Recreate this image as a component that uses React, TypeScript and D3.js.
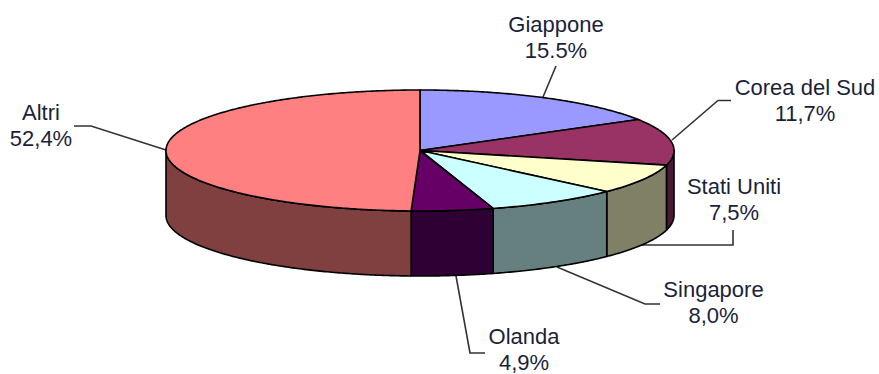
import React from "react";
import * as d3 from "d3";

const categories = ["Giappone", "Corea del Sud", "Stati Uniti", "Singapore", "Olanda", "Altri"];
const shares = [15.5, 11.7, 7.5, 8.0, 4.9, 52.4];
const shareLabels = ["15.5%", "11,7%", "7,5%", "8,0%", "4,9%", "52,4%"];
const topColors = ["#9999ff", "#993366", "#ffffcc", "#ccffff", "#660066", "#ff8080"];
const wallColors = ["#4d4d80", "#4a1a35", "#808066", "#668080", "#2e0033", "#804040"];

const WIDTH = 879;
const HEIGHT = 374;
const CX = 420;
const CY = 150.5;
const RX = 254;
const RY = 60.5;
const DEPTH = 65;
const TAU = Math.PI * 2;

// Tilting the disc stretches the near half of the pie: the first five slices
// take a little more sweep on screen and the large last slice gives it back.
const nearSweep = d3.sum(shares.slice(0, -1)) / d3.sum(shares) * TAU;
const tilt = d3.scaleLinear().domain([0, nearSweep, TAU]).range([0, (182 / 180) * Math.PI, TAU]);

const slices = d3
  .pie<number>()
  .sort(null)
  .startAngle(0)
  .endAngle(TAU)(shares)
  .map((s, i) => ({ i, a0: tilt(s.startAngle), a1: tilt(s.endAngle) }));

type Pt = [number, number];
const onRim = (a: number, drop = 0): Pt => [CX + RX * Math.sin(a), CY - RY * Math.cos(a) + drop];
const sweep = (a0: number, a1: number, drop = 0): Pt[] => {
  const n = Math.max(2, Math.ceil((a1 - a0) / 0.01));
  return d3.range(n + 1).map((k) => onRim(a0 + ((a1 - a0) * k) / n, drop));
};
const line = d3.line<Pt>().x((p) => p[0]).y((p) => p[1]);

// Only the stretch of rim facing the viewer has a visible wall.
const FRONT_START = Math.PI / 2;
const FRONT_END = (Math.PI * 3) / 2;

const wallPath = (a0: number, a1: number) => {
  const from = Math.max(a0, FRONT_START);
  const to = Math.min(a1, FRONT_END);
  if (to <= from) return null;
  return line([...sweep(from, to), ...sweep(from, to, DEPTH).reverse()]) + "Z";
};
const topPath = (a0: number, a1: number) => line([[CX, CY], ...sweep(a0, a1)]) + "Z";

// Label block centre, first baseline, and the leader running towards the pie.
const labelLayout: { x: number; y: number; leader: Pt[] }[] = [
  { x: 556, y: 32, leader: [[543, 97], [556, 66]] },
  { x: 805, y: 95, leader: [[672, 140], [718, 100.5], [731, 100.5]] },
  { x: 734, y: 194, leader: [[642, 245], [733, 245], [733, 230]] },
  { x: 713.5, y: 297, leader: [[557, 267], [645, 304], [660, 304]] },
  { x: 524, y: 344, leader: [[456, 276], [470, 353], [485, 353]] },
  { x: 41, y: 120, leader: [[166, 150], [91, 126], [74, 126]] },
];

export default function App() {
  return (
    <svg
      width={WIDTH}
      height={HEIGHT}
      viewBox={`0 0 ${WIDTH} ${HEIGHT}`}
      style={{ position: "fixed", left: 0, top: 0, background: "#fff" }}
    >
      <g stroke="#333" strokeWidth={1.6} fill="none">
        {labelLayout.map((l, i) => (
          <path key={i} d={line(l.leader) ?? ""} />
        ))}
      </g>
      <g stroke="#000" strokeWidth={1.6} strokeLinejoin="round">
        {slices.map((s) => {
          const d = wallPath(s.a0, s.a1);
          return d ? <path key={s.i} d={d} fill={wallColors[s.i]} /> : null;
        })}
        {slices.map((s) => (
          <path key={s.i} d={topPath(s.a0, s.a1)} fill={topColors[s.i]} />
        ))}
      </g>
      <g fontFamily="'Liberation Sans', Arial, sans-serif" fontSize={22} fill="#1b1f3a" textAnchor="middle">
        {labelLayout.map((l, i) => (
          <text key={i} x={l.x} y={l.y}>
            <tspan x={l.x}>{categories[i]}</tspan>
            <tspan x={l.x} dy={25.5}>{shareLabels[i]}</tspan>
          </text>
        ))}
      </g>
    </svg>
  );
}
